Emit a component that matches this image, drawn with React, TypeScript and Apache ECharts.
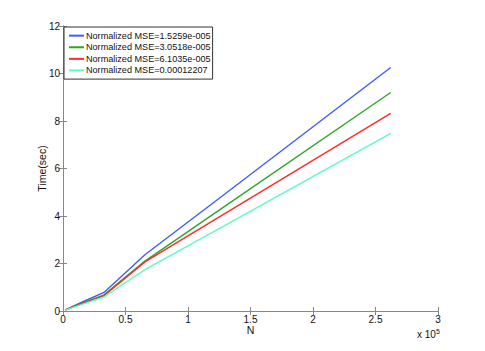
import React, { useEffect, useRef } from "react";
import * as echarts from "echarts";

const nValues = [2048, 8192, 16384, 32768, 65536, 131072, 262144];
const seriesNames = [
  "Normalized MSE=1.5259e-005",
  "Normalized MSE=3.0518e-005",
  "Normalized MSE=6.1035e-005",
  "Normalized MSE=0.00012207",
];
const blueTimes = [0.05, 0.2, 0.4, 0.78, 2.37, 4.99, 10.25];
const greenTimes = [0.05, 0.18, 0.35, 0.68, 2.1, 4.47, 9.2];
const redTimes = [0.05, 0.17, 0.33, 0.64, 2.07, 4.15, 8.32];
const cyanTimes = [0.04, 0.15, 0.3, 0.59, 1.74, 3.65, 7.48];
const seriesColors = ["#3f5cff", "#2fa62a", "#ff2a2a", "#5dfbc0"];

const FONT = "'Liberation Sans', Arial, Helvetica, sans-serif";

export default function App() {
  const ref = useRef<HTMLDivElement>(null);
  useEffect(() => {
    document.body.style.margin = "0";
    if (!ref.current) return;
    const chart = echarts.init(ref.current, null, { renderer: "svg" });
    const allData = [blueTimes, greenTimes, redTimes, cyanTimes];
    const axisLine = { show: true, lineStyle: { color: "#888", width: 1 } };
    const axisTick = { show: true, inside: true, length: 4, lineStyle: { color: "#888" } };
    const labelStyle = { color: "#111", fontSize: 10, fontFamily: FONT };
    chart.setOption({
      animation: false,
      backgroundColor: "#fff",
      grid: { left: 63, right: 47, top: 26, bottom: 40, containLabel: false },
      legend: {
        orient: "vertical",
        left: 64,
        top: 27,
        data: seriesNames,
        icon: "rect",
        itemWidth: 15,
        itemHeight: 2,
        itemGap: 0.3,
        padding: [3, 2, 3, 5],
        borderColor: "#333",
        borderWidth: 1,
        backgroundColor: "#fff",
        textStyle: { fontSize: 9.1, fontFamily: FONT, color: "#111", lineHeight: 11.3, padding: [0, 0, 0, -3] },
      },
      xAxis: [
        {
          type: "value",
          min: 0,
          max: 300000,
          interval: 50000,
          name: "N",
          nameLocation: "middle",
          nameGap: 13,
          nameMoveOverlap: false,
          nameTextStyle: { fontSize: 10.5, fontFamily: FONT, color: "#111", verticalAlign: "top" },
          axisLine,
          axisTick,
          splitLine: { show: false },
          axisLabel: { ...labelStyle, margin: 3, formatter: (v: number) => String(v / 100000) },
        },
        {
          type: "value",
          position: "top",
          min: 0,
          max: 300000,
          interval: 50000,
          axisLine,
          axisTick,
          splitLine: { show: false },
          axisLabel: { show: false },
        },
      ],
      yAxis: [
        {
          type: "value",
          min: 0,
          max: 12,
          interval: 2,
          name: "Time(sec)",
          nameLocation: "middle",
          nameGap: 16,
          nameMoveOverlap: false,
          nameTextStyle: { fontSize: 10.5, fontFamily: FONT, color: "#111" },
          axisLine,
          axisTick,
          splitLine: { show: false },
          axisLabel: { ...labelStyle, margin: 3 },
        },
        {
          type: "value",
          position: "right",
          min: 0,
          max: 12,
          interval: 2,
          axisLine,
          axisTick,
          splitLine: { show: false },
          axisLabel: { show: false },
        },
      ],
      graphic: [
        {
          type: "text",
          left: 417,
          top: 328,
          style: {
            text: "x 10{s|5}",
            fontSize: 10,
            fontFamily: FONT,
            fill: "#111",
            rich: { s: { fontSize: 7, verticalAlign: "top", padding: [0, 0, 6, 0] } },
          },
        },
      ],
      series: allData.map((vals, i) => ({
        name: seriesNames[i],
        type: "line",
        xAxisIndex: 0,
        yAxisIndex: 0,
        data: nValues.map((n, j) => [n, vals[j]]),
        symbol: "none",
        lineStyle: { color: seriesColors[i], width: 1.4 },
        itemStyle: { color: seriesColors[i] },
      })),
    });
    return () => chart.dispose();
  }, []);
  return <div ref={ref} style={{ width: 485, height: 351 }} />;
}
